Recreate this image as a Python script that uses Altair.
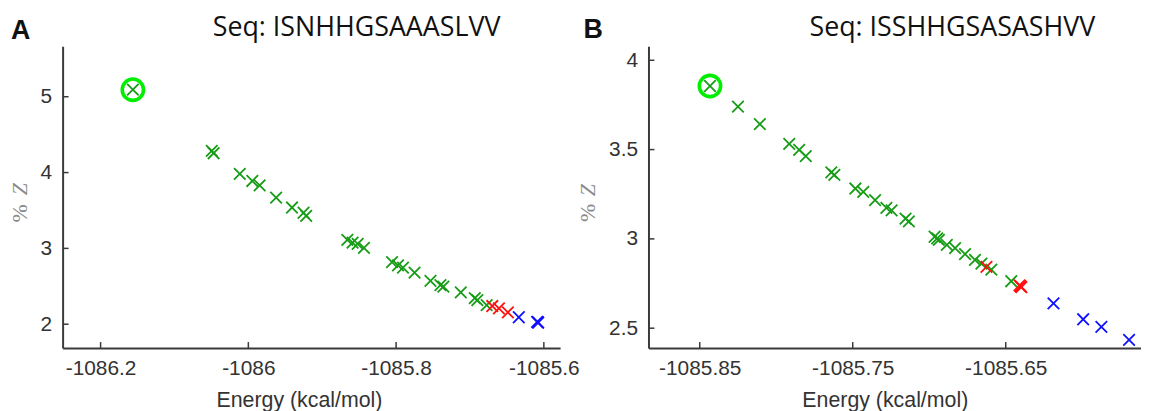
import altair as alt
import pandas as pd

# ---------------- Panel A data ----------------
a_green_e = [-1086.1563, -1086.0495, -1086.0470, -1086.0116, -1085.9946, -1085.9847,
             -1085.9624, -1085.9409, -1085.9253, -1085.9217, -1085.8660, -1085.8589,
             -1085.8520, -1085.8435, -1085.8055, -1085.7974, -1085.7907, -1085.7750,
             -1085.7535, -1085.7400, -1085.7360, -1085.7124, -1085.6935, -1085.6900,
             -1085.6774]
a_green_z = [5.093, 4.285, 4.255, 3.984, 3.889, 3.832,
             3.670, 3.539, 3.470, 3.430, 3.113, 3.077,
             3.060, 3.008, 2.819, 2.776, 2.746, 2.681,
             2.571, 2.515, 2.495, 2.419, 2.345, 2.318,
             2.253]
a_red_e = [-1085.6698, -1085.6608, -1085.6487]
a_red_z = [2.240, 2.209, 2.157]
a_blue_e = [-1085.6339, -1085.6090, -1085.6076, -1085.6083]
a_blue_z = [2.092, 2.030, 2.022, 2.026]
a_best_e = [-1086.1563]
a_best_z = [5.093]
a_xticks = [-1086.2, -1086.0, -1085.8, -1085.6]
a_yticks = [2, 3, 4, 5]
a_title = "Seq: ISNHHGSAAASLVV"
a_letter = "A"

# ---------------- Panel B data ----------------
b_green_e = [-1085.8433, -1085.8250, -1085.8107, -1085.7915, -1085.7850, -1085.7807,
             -1085.7640, -1085.7620, -1085.7483, -1085.7431, -1085.7354, -1085.7280,
             -1085.7246, -1085.7155, -1085.7133, -1085.6965, -1085.6948, -1085.6937,
             -1085.6885, -1085.6831, -1085.6766, -1085.6701, -1085.6659, -1085.6594,
             -1085.6464]
b_green_z = [3.856, 3.741, 3.643, 3.532, 3.498, 3.463,
             3.372, 3.358, 3.282, 3.263, 3.217, 3.174,
             3.160, 3.113, 3.098, 3.012, 3.003, 2.995,
             2.967, 2.948, 2.915, 2.883, 2.861, 2.828,
             2.763]
b_red_e = [-1085.6626, -1085.6410, -1085.6398, -1085.6404]
b_red_z = [2.843, 2.740, 2.730, 2.735]
b_blue_e = [-1085.6188, -1085.5994, -1085.5875, -1085.5694]
b_blue_z = [2.639, 2.550, 2.507, 2.435]
b_best_e = [-1085.8433]
b_best_z = [3.856]
b_xticks = [-1085.85, -1085.75, -1085.65]
b_yticks = [2.5, 3, 3.5, 4]
b_title = "Seq: ISSHHGSASASHVV"
b_letter = "B"

X_SHAPE = "M -1 -1 L 1 1 M 1 -1 L -1 1"
AXIS_COLOR = "#3a3a3a"
TEXT_COLOR = "#333333"
H = 304


def panel(ge, gz, re_, rz, be, bz, beste, bestz, xticks, yticks, xdom, ydom,
          W, letter, title, letter_x, letter_y, title_x, zlab_x, pct_y, z_y):
    rows = ([{"e": e, "z": z, "g": "green"} for e, z in zip(ge, gz)] +
            [{"e": e, "z": z, "g": "red"} for e, z in zip(re_, rz)] +
            [{"e": e, "z": z, "g": "blue"} for e, z in zip(be, bz)])
    df = pd.DataFrame(rows)
    df["o"] = range(len(df))
    xs = alt.Scale(domain=xdom, nice=False, zero=False)
    ys = alt.Scale(domain=ydom, nice=False, zero=False)
    xaxis = alt.Axis(values=xticks, title="Energy (kcal/mol)",
                     labelExpr="'-' + format(abs(datum.value), '~g')",
                     ticks=False, tickSize=0, grid=False,
                     domainColor=AXIS_COLOR, domainWidth=2,
                     labelFont="Liberation Sans", labelFontSize=21, labelColor=TEXT_COLOR,
                     labelPadding=10, labelFlush=False, labelOverlap=False,
                     titleFont="Liberation Sans", titleFontSize=21.5,
                     titleFontWeight="normal", titleColor=TEXT_COLOR,
                     titlePadding=11, titleX=238)
    yaxis = alt.Axis(values=yticks, title=None,
                     labelExpr="format(datum.value, '~g')",
                     ticks=False, tickSize=0, grid=False,
                     domainColor=AXIS_COLOR, domainWidth=2,
                     labelFont="Liberation Sans", labelFontSize=21, labelColor=TEXT_COLOR,
                     labelPadding=11, labelFlush=False, labelOverlap=False)
    pts = alt.Chart(df).mark_point(shape=X_SHAPE, filled=False, size=135,
                                   strokeWidth=1.8, opacity=1).encode(
        x=alt.X("e:Q", scale=xs, axis=xaxis),
        y=alt.Y("z:Q", scale=ys, axis=yaxis),
        color=alt.Color("g:N", scale=alt.Scale(domain=["green", "red", "blue"],
                                                range=["#179c17", "#ff1010", "#1010ff"]),
                        legend=None),
        order=alt.Order("o:Q"),
    )
    best = alt.Chart(pd.DataFrame({"e": beste, "z": bestz})).mark_point(
        shape="circle", size=460, filled=False, strokeWidth=3.6, color="#00ee00",
        opacity=1).encode(x="e:Q", y="z:Q")
    xt = alt.Chart(pd.DataFrame({"v": xticks})).mark_rule(
        color=AXIS_COLOR, strokeWidth=1.5).encode(
        x="v:Q", y=alt.value(H), y2=alt.value(H - 6))
    yt = alt.Chart(pd.DataFrame({"v": yticks})).mark_rule(
        color=AXIS_COLOR, strokeWidth=1.5).encode(
        y="v:Q", x=alt.value(0), x2=alt.value(6))
    let = alt.Chart(pd.DataFrame({"t": [letter]})).mark_text(
        font="Liberation Sans", fontWeight="bold", fontSize=27, align="left",
        baseline="alphabetic", color="#111111").encode(
        text="t:N", x=alt.value(letter_x), y=alt.value(letter_y))
    tit = alt.Chart(pd.DataFrame({"t": [title]})).mark_text(
        font="Open Sans", fontSize=27, align="center", baseline="alphabetic",
        color="#111111").encode(
        text="t:N", x=alt.value(title_x), y=alt.value(-10))
    pct = alt.Chart(pd.DataFrame({"t": ["%"]})).mark_text(
        font="Liberation Serif", fontSize=22, align="center", baseline="middle",
        angle=270, color="#8a8a8a").encode(
        text="t:N", x=alt.value(zlab_x), y=alt.value(pct_y))
    zl = alt.Chart(pd.DataFrame({"t": ["Z"]})).mark_text(
        font="Liberation Serif", fontSize=22, fontStyle="italic", align="center",
        baseline="middle", angle=270, color="#8a8a8a").encode(
        text="t:N", x=alt.value(zlab_x), y=alt.value(z_y))
    return alt.layer(pts, best, xt, yt, let, tit, pct, zl).properties(width=W, height=H)


pa = panel(a_green_e, a_green_z, a_red_e, a_red_z, a_blue_e, a_blue_z,
           a_best_e, a_best_z, a_xticks, a_yticks,
           [-1086.2514, -1085.578], [1.686, 5.667], 501,
           a_letter, a_title, -52, -7, 296, -42.7, 168.5, 144)
pb = panel(b_green_e, b_green_z, b_red_e, b_red_z, b_blue_e, b_blue_z,
           b_best_e, b_best_z, b_xticks, b_yticks,
           [-1085.8835, -1085.5616], [2.389, 4.079], 496,
           b_letter, b_title, -65.5, -8, 306, -61.3, 168, 145)

chart = alt.hconcat(pa, pb, spacing=89, bounds="flush").configure_view(
    stroke=None).properties(padding={"left": 1, "top": 5, "right": 0, "bottom": 0},
                            background="white")

chart.save("out.html", embed_options={"renderer": "svg", "actions": False})
